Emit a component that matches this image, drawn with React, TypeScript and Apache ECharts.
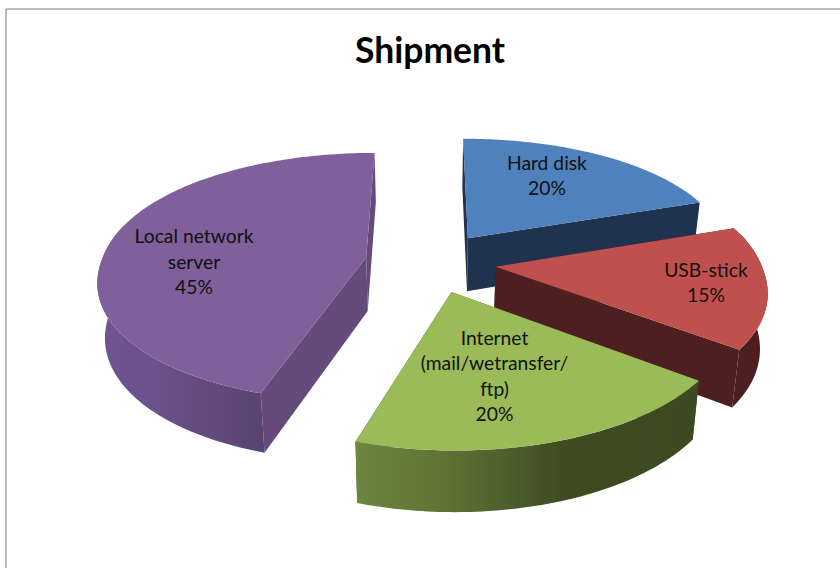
import React, { useEffect, useRef } from "react";
import * as echarts from "echarts";

const TITLE = "Shipment";
const CATEGORIES = ["Hard disk", "USB-stick", "Internet\n(mail/wetransfer/\nftp)", "Local network\nserver"];
const VALUES = [20, 15, 20, 45];

// Appearance of each slice (same order as the data)
const TOP_COLORS = ["#4F81BD", "#C0504D", "#9BBB59", "#7F609B"];
const CUT_COLORS = ["#1F324E", "#4E1F20", "#3E4C22", "#644B7C"];
const RIM_STOPS: [number, string][][] = [
  [[0, "#1F324E"], [1, "#1F324E"]],
  [[0, "#4E1F20"], [1, "#4E1F20"]],
  [[0, "#6C8640"], [0.25, "#5F7434"], [0.5, "#47582A"], [0.6, "#3E4C22"], [1, "#3D4A21"]],
  [[0, "#6F5692"], [0.35, "#6A518A"], [0.7, "#624A7B"], [1, "#584372"]],
];
// Where each label sits inside its slice: direction in degrees clockwise from the back, and radial fraction
const LABEL_ANGLE = [30, 99, 166.6, 267];
const LABEL_RADIUS = [0.694, 0.78, 0.587, 0.65];

// Projection of the tilted, exploded pie
const CX = 430.5;
const CY = 262;
const RADIUS_X = 265;
const RADIUS_Y = 122.5;
const PERSPECTIVE_X = 0.15;
const PERSPECTIVE_Y = 0.16;
const PERSPECTIVE_DEPTH = 0.1;
const EXPLODE = 0.247;
const DEPTH = 54;
const BOTTOM_NARROW = 0.977;
const ROUNDNESS = 0.95;

const TOTAL = VALUES.reduce((a, b) => a + b, 0);
const rad = (d: number) => (d * Math.PI) / 180;
const bulge = (v: number) => Math.sign(v) * Math.pow(Math.abs(v), ROUNDNESS);

function project(X: number, V: number): [number, number] {
  return [
    CX + (RADIUS_X * X) / (1 - PERSPECTIVE_X * V),
    CY + (RADIUS_Y * V) / (1 - PERSPECTIVE_Y * V),
  ];
}
function lower(p: [number, number], V: number): [number, number] {
  return [CX + (p[0] - CX) * BOTTOM_NARROW, p[1] + DEPTH / (1 - PERSPECTIVE_DEPTH * V)];
}

function renderSlice(params: any, api: any) {
  const i = params.dataIndex;
  const value = api.value(0);
  let before = 0;
  for (let k = 0; k < i; k++) before += VALUES[k];
  const t0 = (before / TOTAL) * 360;
  const t1 = t0 + (value / TOTAL) * 360;
  const mid = (t0 + t1) / 2;
  const ax = EXPLODE * Math.sin(rad(mid));
  const av = -EXPLODE * Math.cos(rad(mid));
  const rimX = (t: number) => ax + Math.sin(rad(t));
  const rimV = (t: number) => av - bulge(Math.cos(rad(t)));
  const rimTop = (t: number) => project(rimX(t), rimV(t));
  const rimBottom = (t: number) => lower(rimTop(t), rimV(t));
  const apex = project(ax, av);
  const apexBottom = lower(apex, av);

  const sweep = (from: number, to: number) => {
    const out: number[] = [];
    for (let t = from; t < to; t += 1) out.push(t);
    out.push(to);
    return out;
  };

  const children: any[] = [];
  [t0, t1].forEach((t) => {
    children.push({
      type: "polygon",
      shape: { points: [apex, rimTop(t), rimBottom(t), apexBottom] },
      style: { fill: CUT_COLORS[i] },
    });
  });

  const frontFrom = Math.max(t0, 75);
  const frontTo = Math.min(t1, 285);
  if (frontTo > frontFrom) {
    const ts = sweep(frontFrom, frontTo);
    const pts = ts.map(rimTop).concat(ts.slice().reverse().map(rimBottom));
    children.push({
      type: "polygon",
      shape: { points: pts },
      style: {
        fill: new echarts.graphic.LinearGradient(
          0, 0, 1, 0,
          RIM_STOPS[i].map(([offset, color]) => ({ offset, color })),
        ),
      },
    });
  }

  children.push({
    type: "polygon",
    shape: { points: [apex, ...sweep(t0, t1).map(rimTop)] },
    style: { fill: TOP_COLORS[i] },
  });

  const lx = ax + LABEL_RADIUS[i] * Math.sin(rad(LABEL_ANGLE[i]));
  const lv = av - LABEL_RADIUS[i] * Math.cos(rad(LABEL_ANGLE[i]));
  const [tx, ty] = project(lx, lv);
  children.push({
    type: "text",
    style: {
      x: tx,
      y: ty,
      text: `${CATEGORIES[i]}\n${value}%`,
      font: '19.3px Lato, "Open Sans", sans-serif',
      lineHeight: 25.5,
      fill: "#111111",
      align: "center",
      verticalAlign: "middle",
    },
  });

  return { type: "group", children };
}

export default function App() {
  const ref = useRef<HTMLDivElement>(null);
  useEffect(() => {
    document.body.style.margin = "0";
    const chart = echarts.init(ref.current!, undefined, { renderer: "svg" });
    chart.setOption({
      animation: false,
      backgroundColor: "#ffffff",
      title: {
        text: TITLE,
        left: 425,
        top: 26,
        textAlign: "center",
        textStyle: { fontFamily: 'Lato, "Open Sans", sans-serif', fontSize: 35.5, fontWeight: "bold", color: "#000000" },
      },
      graphic: [
        { type: "line", shape: { x1: 6, y1: 9, x2: 840, y2: 9 }, style: { stroke: "#A6A6A6", lineWidth: 1.5 }, silent: true },
        { type: "line", shape: { x1: 6, y1: 9, x2: 6, y2: 568 }, style: { stroke: "#A6A6A6", lineWidth: 1.5 }, silent: true },
      ],
      series: [
        {
          type: "custom",
          coordinateSystem: "none",
          silent: true,
          renderItem: renderSlice,
          data: VALUES.map((v, i) => ({ name: CATEGORIES[i], value: [v] })),
        },
      ],
    });
    return () => chart.dispose();
  }, []);
  return <div ref={ref} style={{ width: 840, height: 568 }} />;
}
